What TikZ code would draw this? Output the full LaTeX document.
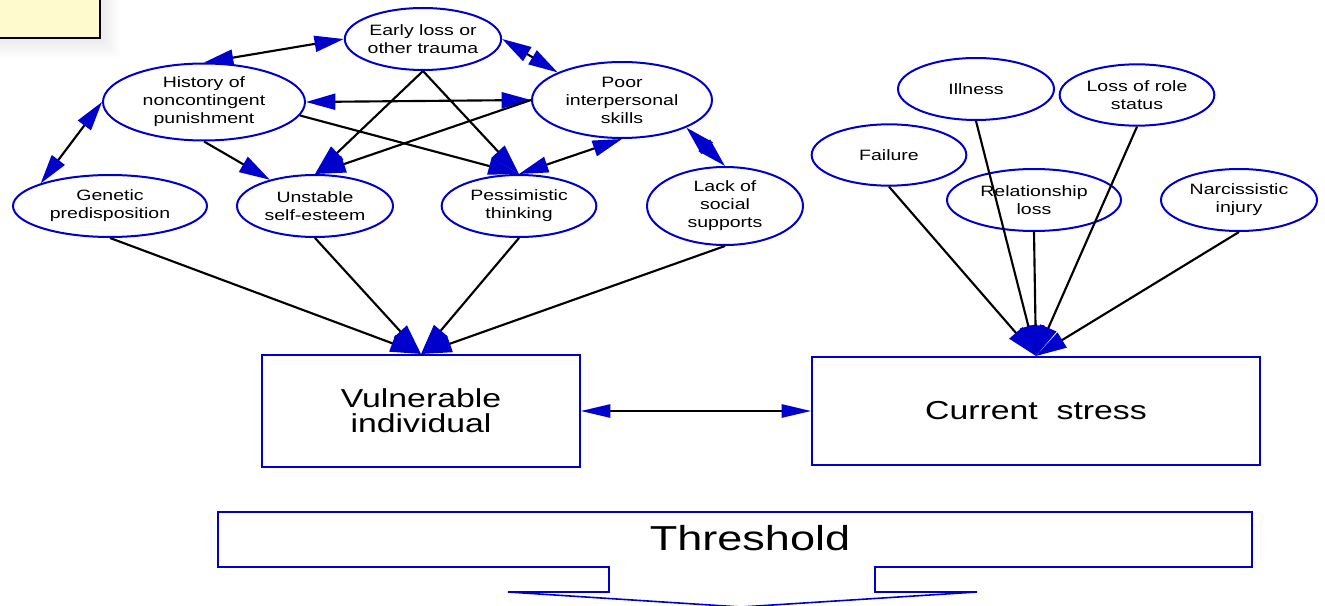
\documentclass[tikz,border=0pt]{standalone}
\usepackage{fontspec}
\setmainfont{Liberation Sans}[FakeStretch=1.3]
\usetikzlibrary{arrows.meta,shapes.geometric}

\begin{document}
\begin{tikzpicture}[x=0.75pt, y=-0.75pt,
    factor/.style={ellipse, draw=nodeblue, line width=1.5pt, inner sep=0pt, align=center,
        font=\fontsize{11.25pt}{13.5pt}\selectfont},
    block/.style={rectangle, draw=nodeblue, line width=1.5pt, inner sep=0pt, align=center,
        font=\fontsize{19.5pt}{19pt}\selectfont},
    link/.style={line width=1.6pt, -{Triangle[length=23pt,width=13pt,color=nodeblue]}},
    bilink/.style={line width=1.6pt,
        {Triangle[length=22pt,width=12pt,color=nodeblue]}-{Triangle[length=22pt,width=12pt,color=nodeblue]}}]
        % Define colors
        \definecolor{nodeblue}{RGB}{0, 0, 204}
        \definecolor{noteyellow}{RGB}{255, 250, 205}

        \useasboundingbox (0,0) rectangle (1325,606);

        % --- NOTE BOX (cut off) ---
        \foreach \s in {2,4,...,20}
            \fill[black, opacity=0.009] (-5,-5) rectangle (100+\s, 38+\s);
        \draw[fill=noteyellow, line width=1.5pt] (-5,-5) rectangle (100,38);

        % --- VULNERABILITY FACTORS ---
        \node[factor, minimum width=116pt, minimum height=46.5pt] (early) at (423, 39) {Early loss or\\other trauma};
        \node[factor, minimum width=151.5pt, minimum height=57.75pt] (hist) at (204, 102) {History of\\noncontingent\\punishment};
        \node[factor, minimum width=135pt, minimum height=57pt] (poor) at (622, 100) {Poor\\interpersonal\\skills};
        \node[factor, minimum width=145.5pt, minimum height=46.5pt] (gen) at (110, 206) {Genetic\\predisposition};
        \node[factor, minimum width=117pt, minimum height=46.5pt] (unst) at (315, 206) {Unstable\\self-esteem};
        \node[factor, minimum width=116pt, minimum height=46.5pt] (pess) at (519, 206) {Pessimistic\\thinking};
        \node[factor, minimum width=117pt, minimum height=58.5pt] (lack) at (725, 206) {Lack of\\social\\supports};

        % --- STRESSORS ---
        \node[factor, minimum width=117pt, minimum height=46.5pt] (ill) at (976, 89) {Illness};
        \node[factor, minimum width=116pt, minimum height=46pt] (role) at (1137, 95) {Loss of role\\status};
        \node[factor, minimum width=116pt, minimum height=46pt] (fail) at (889, 155) {Failure};
        \node[factor, minimum width=130.5pt, minimum height=46.5pt] (rel) at (1034, 200) {Relationship\\loss};
        \node[factor, minimum width=117pt, minimum height=46.5pt] (narc) at (1239, 200) {Narcissistic\\injury};

        % --- BOXES ---
        \node[block, minimum width=238.5pt, minimum height=84pt] (vul) at (421, 411) {Vulnerable\\individual};
        \node[block, minimum width=336pt, minimum height=81pt] (cur) at (1036, 411) {Current\ \ stress};

        % Links between factors
        \draw[bilink] (hist.north) -- (early.west);
        \draw[bilink] (early.east) -- (poor.north west);
        \draw[bilink] (hist.east) -- (poor.west);
        \draw[bilink] (hist.west) -- (gen.north west);
        \draw[bilink] (poor.south east) -- (lack.north);
        \draw[bilink] (poor.south) -- (pess.north);
        \draw[link] (early.south) -- (unst.north);
        \draw[link] (early.south) -- (pess.north);
        \draw[link] (poor.west) -- (unst.north);
        \draw[link] (hist.-8) -- (pess.north);
        \draw[link] (hist.south) -- (unst);

        % Factors into vulnerable individual
        \draw[link] (gen.south) -- (vul.north);
        \draw[link] (unst.south) -- (vul.north);
        \draw[link] (pess.south) -- (vul.north);
        \draw[link] (lack.south) -- (vul.north);

        % Stressors into current stress
        \draw[link] (fail.south) -- (cur.north);
        \draw[link] (ill.south) -- (cur.north);
        \draw[link] (rel.south) -- (cur.north);
        \draw[link] (role.south) -- (cur.north);
        \draw[link] (narc.south) -- (cur.north);

        \draw[line width=1.1pt, {Triangle[length=22pt,width=10pt,color=nodeblue]}-{Triangle[length=22pt,width=10pt,color=nodeblue]}] (vul.east) -- (cur.west);

        % Threshold arrow
        \draw[nodeblue, line width=1.2pt] (218,512) -- (1252,512) -- (1252,567) -- (875,567) -- (875,592)
            -- (977,592) -- (741,607) -- (508,592) -- (609,592) -- (609,567) -- (218,567) -- cycle;
        \node[font=\fontsize{26pt}{26pt}\selectfont] (thr) at (750, 538) {Threshold};
    \end{tikzpicture}
\end{document}
